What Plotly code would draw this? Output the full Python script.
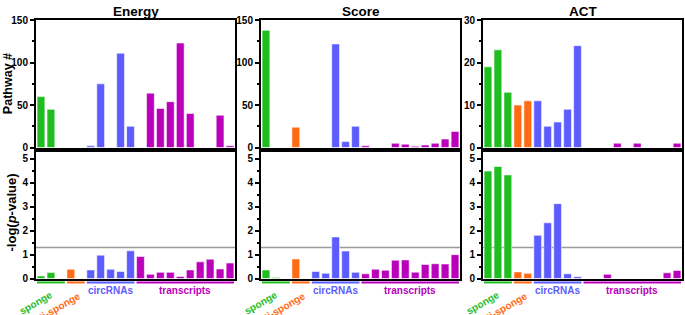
import plotly.graph_objects as go

# ---------------- data ----------------
slots = list(range(20))
groups = ["sponge"] * 3 + ["anti-sponge"] * 2 + ["circRNAs"] * 5 + ["transcripts"] * 10
group_names = ["sponge", "anti-sponge", "circRNAs", "transcripts"]
group_colors = {"sponge": "#1fbd1f", "anti-sponge": "#ff6a12", "circRNAs": "#5c5cff", "transcripts": "#bb00bb"}
group_ranges = {"sponge": (0, 2), "anti-sponge": (3, 4), "circRNAs": (5, 9), "transcripts": (10, 19)}

panels = ["Energy", "Score", "ACT"]

pathway_energy = [60, 45, 0, 0, 0, 2, 75, 0, 111, 25, 0, 64, 46, 54, 123, 40, 0, 0, 38, 2]
pathway_score = [138, 0, 0, 24, 0, 0, 0, 122, 7, 25, 2, 0, 0, 5, 4, 1.5, 3, 5, 10, 19]
pathway_act = [19, 23, 13, 10, 11, 11, 5, 6, 9, 24, 0, 0, 0, 1, 0, 1, 0, 0, 0, 1]

logp_energy = [0.11, 0.25, 0, 0.39, 0, 0.36, 0.98, 0.39, 0.30, 1.16, 0.92, 0.18, 0.26, 0.26, 0.09, 0.36, 0.70, 0.81, 0.40, 0.65]
logp_score = [0.36, 0.05, 0, 0.82, 0, 0.30, 0.22, 1.74, 1.15, 0.26, 0.20, 0.39, 0.35, 0.77, 0.78, 0.27, 0.59, 0.62, 0.61, 1.00]
logp_act = [4.49, 4.68, 4.33, 0.28, 0.22, 1.81, 2.33, 3.13, 0.20, 0.08, 0, 0, 0.18, 0, 0, 0, 0, 0, 0.24, 0.34]

top_data = [pathway_energy, pathway_score, pathway_act]
bot_data = [logp_energy, logp_score, logp_act]
top_ticks = [[0, 50, 100, 150], [0, 50, 100, 150], [0, 10, 20, 30]]
top_minor = [25, 25, 5]
top_max = [150, 150, 30]
bot_ticks = [0, 1, 2, 3, 4, 5]
threshold = 1.301

# ---------------- layout geometry ----------------
W, H = 685, 315
x_px = [(36, 235), (261, 460), (483, 682)]
top_px = (15.7, 147.7)
bot_px = (152, 283.5)


def py(p):
    return 1 - p / H


FONT = "Liberation Sans, Arial, Helvetica, sans-serif"
fig = go.Figure()

bar_colors = [group_colors[g] for g in groups]

for i in range(3):
    xt = "x" if i == 0 else f"x{i + 1}"
    yt = "y" if i == 0 else f"y{i + 1}"
    xb = f"x{i + 4}"
    yb = f"y{i + 4}"
    fig.add_trace(go.Bar(x=slots, y=top_data[i], xaxis=xt, yaxis=yt, width=0.78,
                         marker=dict(color=bar_colors, line=dict(color="rgba(255,255,255,0.55)", width=1)),
                         showlegend=False, hoverinfo="y"))
    fig.add_trace(go.Bar(x=slots, y=bot_data[i], xaxis=xb, yaxis=yb, width=0.78,
                         marker=dict(color=bar_colors, line=dict(color="rgba(255,255,255,0.55)", width=1)),
                         showlegend=False, hoverinfo="y"))

axis_common = dict(showline=True, mirror=True, linecolor="black", linewidth=2, showgrid=False, zeroline=False)
tickfont = dict(family=FONT, size=10, color="black", weight="bold")

layout = {}
for i in range(3):
    dom = [x_px[i][0] / W, x_px[i][1] / W]
    xt = "xaxis" if i == 0 else f"xaxis{i + 1}"
    yt = "yaxis" if i == 0 else f"yaxis{i + 1}"
    xb = f"xaxis{i + 4}"
    yb = f"yaxis{i + 4}"
    ya_t = "y" if i == 0 else f"y{i + 1}"
    layout[xt] = dict(domain=dom, range=[-0.5, 19.5], showticklabels=False, ticks="",
                      anchor=ya_t, **axis_common)
    layout[yt] = dict(domain=[py(top_px[1]), py(top_px[0])], range=[0, top_max[i]],
                      tickvals=top_ticks[i], ticks="outside", ticklen=4, tickwidth=2,
                      tickcolor="black", tickfont=tickfont,
                      minor=dict(dtick=top_minor[i], ticks="outside", ticklen=2.5, tickwidth=1.5, tickcolor="black"),
                      anchor="x" if i == 0 else f"x{i + 1}", **axis_common)
    layout[xb] = dict(domain=dom, range=[-0.5, 19.5], showticklabels=False, ticks="",
                      anchor=f"y{i + 4}", **axis_common)
    layout[yb] = dict(domain=[py(bot_px[1]), py(bot_px[0])], range=[0, 5.3],
                      tickvals=bot_ticks, ticks="outside", ticklen=4, tickwidth=2,
                      tickcolor="black", tickfont=tickfont,
                      minor=dict(dtick=0.5, ticks="outside", ticklen=2.5, tickwidth=1.5, tickcolor="black"),
                      anchor=f"x{i + 4}", **axis_common)

fig.update_layout(**layout)

shapes = []
annotations = []
LBL = 10
for i in range(3):
    xb = f"x{i + 4}"
    yb = f"y{i + 4}"
    # significance threshold
    shapes.append(dict(type="line", xref=f"{xb} domain", yref=yb, x0=0, x1=1, y0=threshold, y1=threshold,
                       line=dict(color="#9a9a9a", width=1.5), layer="below"))
    # group underlines and labels
    for g in group_names:
        a, b = group_ranges[g]
        shapes.append(dict(type="line", xref=xb, yref="paper", x0=a - 0.4, x1=b + 0.4,
                           y0=py(287.5), y1=py(287.5), line=dict(color=group_colors[g], width=2)))
    for g in ["circRNAs", "transcripts"]:
        a, b = group_ranges[g]
        annotations.append(dict(text=f"<b>{g}</b>", xref=xb, yref="paper", x=(a + b) / 2, y=py(288),
                                xanchor="center", yanchor="top", showarrow=False,
                                font=dict(family=FONT, size=LBL, color=group_colors[g])))
    annotations.append(dict(text="<b>sponge</b>", xref=xb, yref="paper", x=1.65, y=py(291.5),
                            xanchor="right", yanchor="top", textangle=-30, showarrow=False,
                            font=dict(family=FONT, size=LBL, color=group_colors["sponge"])))
    annotations.append(dict(text="<b>anti-sponge</b>", xref=xb, yref="paper", x=4.35, y=py(292.5),
                            xanchor="right", yanchor="top", textangle=-30, showarrow=False,
                            font=dict(family=FONT, size=LBL, color=group_colors["anti-sponge"])))
    # panel titles
    annotations.append(dict(text=f"<b>{panels[i]}</b>", xref="paper", yref="paper",
                            x=(x_px[i][0] + x_px[i][1]) / 2 / W, y=py(7), xanchor="center", yanchor="middle",
                            showarrow=False, font=dict(family=FONT, size=13.5, color="black")))

annotations.append(dict(text="<b>Pathway #</b>", xref="paper", yref="paper", x=8 / W, y=py(82),
                        xanchor="center", yanchor="middle", textangle=-90, showarrow=False,
                        font=dict(family=FONT, size=12.5, color="black")))
annotations.append(dict(text="<b>-log(<i>p</i>-value)</b>", xref="paper", yref="paper", x=11 / W, y=py(215),
                        xanchor="center", yanchor="middle", textangle=-90, showarrow=False,
                        font=dict(family=FONT, size=13, color="black")))

fig.update_layout(width=W, height=H, margin=dict(l=0, r=0, t=0, b=0), shapes=shapes, annotations=annotations,
                  plot_bgcolor="white", paper_bgcolor="white", bargap=0.2,
                  font=dict(family=FONT, color="black"))

fig.write_html("out.html", config={"displayModeBar": False},
               post_script="document.body.style.margin='0';document.body.style.overflow='hidden';")
